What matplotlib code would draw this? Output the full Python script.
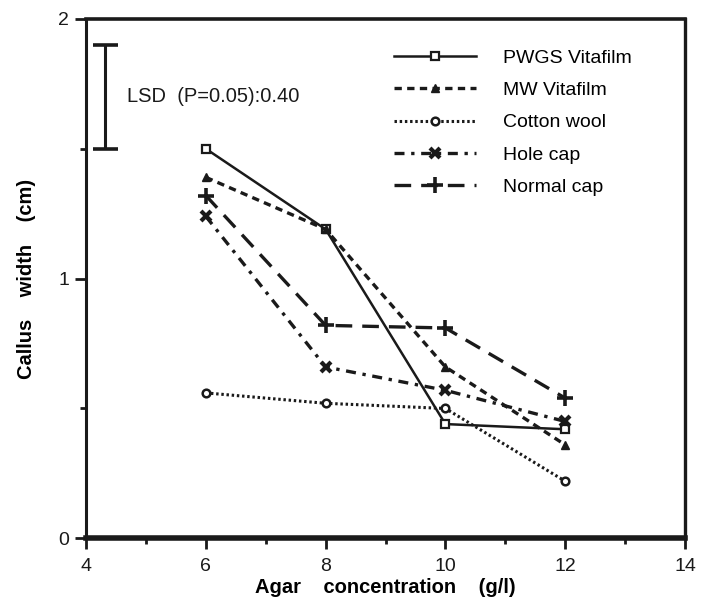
import numpy as np
import matplotlib
matplotlib.use("Agg")
import matplotlib.pyplot as plt
from matplotlib.ticker import MultipleLocator

plt.rcParams['font.family'] = ['Liberation Sans', 'DejaVu Sans']

# agar concentration (g/l)
agar = [6, 8, 10, 12]

# callus width (cm) per closure type
pwgs_vitafilm = [1.50, 1.19, 0.44, 0.42]
mw_vitafilm = [1.39, 1.19, 0.66, 0.36]
cotton_wool = [0.56, 0.52, 0.50, 0.22]
hole_cap = [1.24, 0.66, 0.57, 0.45]
normal_cap = [1.32, 0.82, 0.81, 0.54]

lsd = 0.40
lsd_centre = 1.70

ink = '#1a1a1a'

fig = plt.figure(figsize=(7.02, 6.09), dpi=100)
ax = fig.add_axes([0.1225, 0.116, 0.8533, 0.853])

ax.plot(agar, pwgs_vitafilm, color=ink, lw=1.8, ls='-',
        marker='s', ms=5.5, mfc='white', mew=1.6, label='PWGS Vitafilm')
ax.plot(agar, mw_vitafilm, color=ink, lw=2.4, ls=(0, (2.2, 1.6)),
        marker='^', ms=6, mfc=ink, label='MW Vitafilm')
ax.plot(agar, cotton_wool, color=ink, lw=2.2, ls=(0, (0.8, 0.9)),
        marker='o', ms=5.5, mfc='white', mew=1.8, label='Cotton wool')
ax.plot(agar, hole_cap, color=ink, lw=2.4, ls=(0, (3, 2, 1, 2)),
        marker='x', ms=7.5, mew=3, label='Hole cap')
ax.plot(agar, normal_cap, color=ink, lw=2.4, ls=(0, (5, 3)),
        marker='+', ms=12, mew=2.6, label='Normal cap')

# LSD bar
ax.errorbar([4.32], [lsd_centre], yerr=[lsd / 2], color=ink,
            lw=2.2, capsize=9, capthick=2.6)
ax.text(4.68, lsd_centre, 'LSD  (P=0.05):0.40', fontsize=14.5,
        va='center', ha='left', color=ink)

ax.set_xlim(4, 14)
ax.set_ylim(0, 2)
ax.xaxis.set_major_locator(MultipleLocator(2))
ax.xaxis.set_minor_locator(MultipleLocator(1))
ax.yaxis.set_major_locator(MultipleLocator(1))
ax.yaxis.set_minor_locator(MultipleLocator(0.5))
ax.tick_params(which='major', direction='out', length=8, width=2,
               labelsize=14, colors=ink)
ax.tick_params(which='minor', direction='out', length=4, width=2,
               colors=ink)
ax.tick_params(axis='x', pad=6)
ax.tick_params(axis='y', pad=4)

for side, w in [('bottom', 4), ('left', 2.2), ('top', 2.6), ('right', 2.4)]:
    ax.spines[side].set_linewidth(w)
    ax.spines[side].set_color(ink)

ax.set_xlabel('Agar    concentration    (g/l)', fontsize=14.5,
              fontweight='bold', labelpad=2)
ax.set_ylabel('Callus    width    (cm)', fontsize=14.5,
              fontweight='bold', labelpad=16)

leg = ax.legend(loc='upper right', bbox_to_anchor=(0.94, 0.975),
                frameon=False, fontsize=14, handlelength=4.2,
                handletextpad=1.4, labelspacing=0.75)

fig.savefig('out.png', dpi=100)
